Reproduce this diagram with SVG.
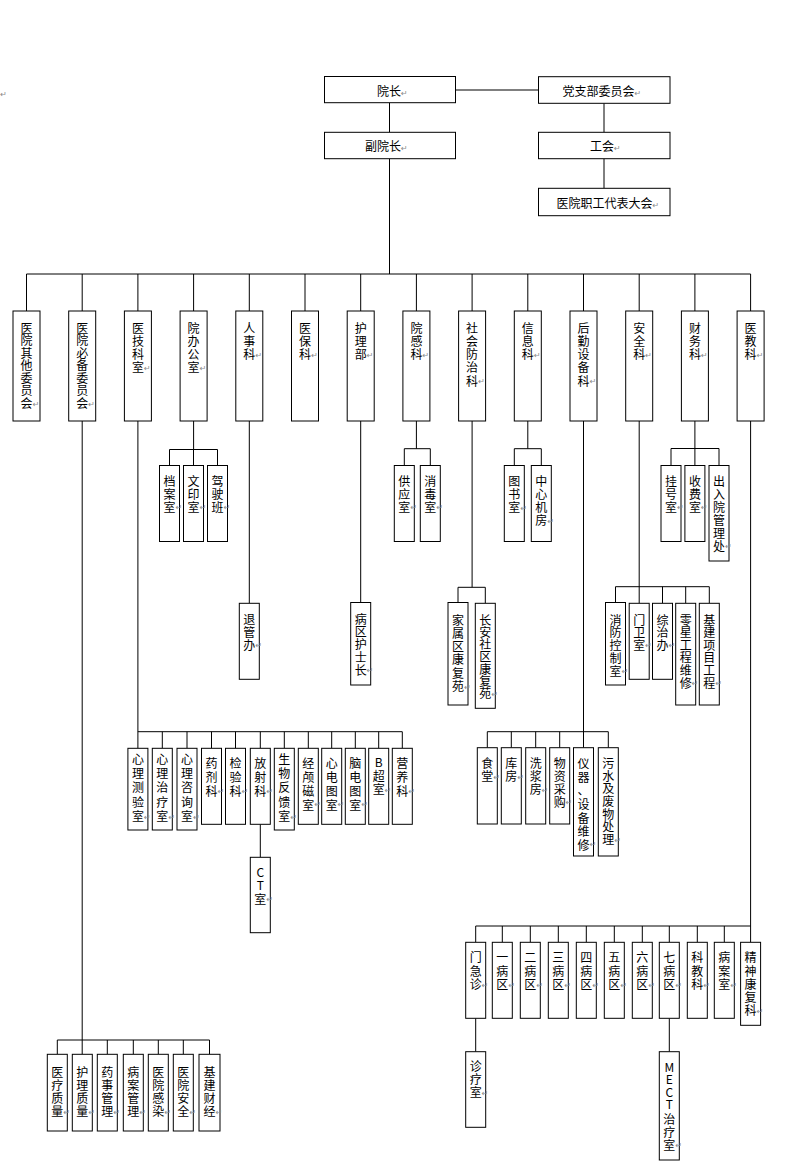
<svg xmlns="http://www.w3.org/2000/svg" width="787" height="1175" viewBox="0 0 787 1175">
<style>
.b{fill:#fff;stroke:#000;stroke-width:1}
.t{font-family:"Noto Sans CJK SC","Noto Sans",sans-serif;font-size:12px;fill:#000;text-anchor:middle}
.h{font-family:"Noto Sans CJK SC","Noto Sans",sans-serif;font-size:12px;fill:#000}
.pm{font-family:"DejaVu Sans",sans-serif;font-size:8px;fill:#8a8a8a;text-anchor:middle}
.c path{stroke:#000;stroke-width:1;fill:none}
</style>
<rect width="787" height="1175" fill="#fff"/>
<text class="pm" x="3.5" y="97">↵</text>

<g id="connectors" class="c">
<path d="M455.5 90H538.5" style="stroke:#555;stroke-width:1.5"/>
<path d="M389.5 102.7V132.3M604 103.3V132.3M604 158.7V188.3M389.5 158.7V274M26.5 274H750.6"/>
<path d="M26.5 274V311M82.2 274V311M137.9 274V311M193.6 274V311M249.3 274V311M305 274V311M360.7 274V311M416.4 274V311M472.1 274V311M527.8 274V311M583.5 274V311M639.2 274V311M694.9 274V311M750.6 274V311"/>
<path d="M82.2 421V1054.3M57.3 1040H209.5M57.3 1040V1054.3M107.3 1040V1054.3M133.3 1040V1054.3M158.3 1040V1054.3M183.3 1040V1054.3M209.5 1040V1054.3"/>
<path d="M137.9 421V748.3M137.9 731.7H402.3M162.3 731.7V748.3M187 731.7V748.3M211.5 731.7V748.3M235.5 731.7V748.3M260.3 731.7V748.3M284.3 731.7V748.3M308.3 731.7V748.3M331.7 731.7V748.3M355.3 731.7V748.3M378.7 731.7V748.3M402.3 731.7V748.3M260.3 824.3V857.3"/>
<path d="M193.6 421V449.5M169.5 449.5H217.5M169.5 449.5V465.5M193.5 449.5V465.5M217.5 449.5V465.5"/>
<path d="M249.3 421V603.3M360.7 421V602.5"/>
<path d="M416.4 421V448.7M404.3 448.7H430.3M404.3 448.7V465.5M430.3 448.7V465.5"/>
<path d="M472.1 421V587.3M458 587.3H485.3M458 587.3V602.5M485.3 587.3V603.3"/>
<path d="M527.8 421V448.7M514.3 448.7H541.3M514.3 448.7V465.5M541.3 448.7V465.5"/>
<path d="M583.5 421V747.7M487.3 731.7H608.3M487.3 731.7V747.7M511.3 731.7V747.7M535.7 731.7V747.7M559.7 731.7V747.7M608.3 731.7V747.7"/>
<path d="M639.2 421V603.3M615.5 586.7H709.3M615.5 586.7V602.5M662.5 586.7V603.3M685.7 586.7V603.3M709.3 586.7V603.3"/>
<path d="M694.9 421V465.5M671 448.5H719M671 448.5V465.5M719 448.5V465.5"/>
<path d="M750.6 421V942.3M475.7 926H750.6M475.7 926V942.3M502.3 926V942.3M530.3 926V942.3M558.3 926V942.3M586.3 926V942.3M614.3 926V942.3M642.3 926V942.3M669.3 926V942.3M697.3 926V942.3M724.3 926V942.3"/>
<path d="M475.7 1018.3V1051.7M669.3 1018.3V1051.7"/>
</g>

<g id="n-yuanzhang"><rect class="b" x="324.5" y="76.5" width="131" height="26.2"/><text class="h" x="377" y="95.5">院长<tspan class="pm" style="text-anchor:start">↵</tspan></text></g>
<g id="n-dangzhibu"><rect class="b" x="538.5" y="76.7" width="131.5" height="26.6"/><text class="h" x="562.5" y="96">党支部委员会<tspan class="pm" style="text-anchor:start">↵</tspan></text></g>
<g id="n-fuyuanzhang"><rect class="b" x="324.5" y="132.3" width="131" height="26.4"/><text class="h" x="365" y="151">副院长<tspan class="pm" style="text-anchor:start">↵</tspan></text></g>
<g id="n-gonghui"><rect class="b" x="538.5" y="132.3" width="131.5" height="26.4"/><text class="h" x="590" y="151">工会<tspan class="pm" style="text-anchor:start">↵</tspan></text></g>
<g id="n-zhigong"><rect class="b" x="538.5" y="188.3" width="131.5" height="27.4"/><text class="h" x="556.5" y="208">医院职工代表大会<tspan class="pm" style="text-anchor:start">↵</tspan></text></g>

<g id="n-qita"><rect class="b" x="13" y="311" width="27" height="110"/><text class="t" x="26.5 26.5 26.5 26.5 26.5 26.5 26.5" y="332.5 345 357.5 370 382.5 395 407.5">医院其他委员会<tspan class="pm" x="36" y="406.5">↵</tspan></text></g>
<g id="n-bibei"><rect class="b" x="68.7" y="311" width="27" height="110"/><text class="t" x="82.2 82.2 82.2 82.2 82.2 82.2 82.2" y="332.5 345 357.5 370 382.5 395 407.5">医院必备委员会<tspan class="pm" x="91.7" y="406.5">↵</tspan></text></g>
<g id="n-yiji"><rect class="b" x="124.4" y="311" width="27" height="110"/><text class="t" x="137.9 137.9 137.9 137.9" y="332.5 345.8 359.1 372.4">医技科室<tspan class="pm" x="147.4" y="371">↵</tspan></text></g>
<g id="n-yuanban"><rect class="b" x="180.1" y="311" width="27" height="110"/><text class="t" x="193.6 193.6 193.6 193.6" y="332.5 345.8 359.1 372.4">院办公室<tspan class="pm" x="203.1" y="371">↵</tspan></text></g>
<g id="n-renshi"><rect class="b" x="235.8" y="311" width="27" height="110"/><text class="t" x="249.3 249.3 249.3" y="332.5 345.8 359.1">人事科<tspan class="pm" x="258.8" y="357.5">↵</tspan></text></g>
<g id="n-yibao"><rect class="b" x="291.5" y="311" width="27" height="110"/><text class="t" x="305 305 305" y="332.5 345.8 359.1">医保科<tspan class="pm" x="314.5" y="357.5">↵</tspan></text></g>
<g id="n-huli"><rect class="b" x="347.2" y="311" width="27" height="110"/><text class="t" x="360.7 360.7 360.7" y="332.5 345.8 359.1">护理部<tspan class="pm" x="370.2" y="357.5">↵</tspan></text></g>
<g id="n-yuangan"><rect class="b" x="402.9" y="311" width="27" height="110"/><text class="t" x="416.4 416.4 416.4" y="332.5 345.8 359.1">院感科<tspan class="pm" x="425.9" y="357.5">↵</tspan></text></g>
<g id="n-shehui"><rect class="b" x="458.6" y="311" width="27" height="110"/><text class="t" x="472.1 472.1 472.1 472.1 472.1" y="332.5 345.8 359.1 372.4 385.7">社会防治科<tspan class="pm" x="481.6" y="384">↵</tspan></text></g>
<g id="n-xinxi"><rect class="b" x="514.3" y="311" width="27" height="110"/><text class="t" x="527.8 527.8 527.8" y="332.5 345.8 359.1">信息科<tspan class="pm" x="537.3" y="357.5">↵</tspan></text></g>
<g id="n-houqin"><rect class="b" x="570" y="311" width="27" height="110"/><text class="t" x="583.5 583.5 583.5 583.5 583.5" y="332.5 345.8 359.1 372.4 385.7">后勤设备科<tspan class="pm" x="593" y="384">↵</tspan></text></g>
<g id="n-anquan"><rect class="b" x="625.7" y="311" width="27" height="110"/><text class="t" x="639.2 639.2 639.2" y="332.5 345.8 359.1">安全科<tspan class="pm" x="648.7" y="357.5">↵</tspan></text></g>
<g id="n-caiwu"><rect class="b" x="681.4" y="311" width="27" height="110"/><text class="t" x="694.9 694.9 694.9" y="332.5 345.8 359.1">财务科<tspan class="pm" x="704.4" y="357.5">↵</tspan></text></g>
<g id="n-yijiao"><rect class="b" x="737.1" y="311" width="27" height="110"/><text class="t" x="750.6 750.6 750.6" y="332.5 345.8 359.1">医教科<tspan class="pm" x="760.1" y="357.5">↵</tspan></text></g>

<g id="n-dangan"><rect class="b" x="159.5" y="465.5" width="20" height="76"/><text class="t" x="169.5 169.5 169.5" y="485.5 498.5 511.5">档案室<tspan class="pm" x="179" y="510">↵</tspan></text></g>
<g id="n-wenyin"><rect class="b" x="183.5" y="465.5" width="20" height="76"/><text class="t" x="193.5 193.5 193.5" y="485.5 498.5 511.5">文印室<tspan class="pm" x="203" y="510">↵</tspan></text></g>
<g id="n-jiashi"><rect class="b" x="207.5" y="465.5" width="20" height="76"/><text class="t" x="217.5 217.5 217.5" y="485.5 498.5 511.5">驾驶班<tspan class="pm" x="227" y="510">↵</tspan></text></g>
<g id="n-gongying"><rect class="b" x="394.3" y="465.5" width="20" height="76"/><text class="t" x="404.3 404.3 404.3" y="485.5 498.5 511.5">供应室<tspan class="pm" x="413.8" y="510">↵</tspan></text></g>
<g id="n-xiaodu"><rect class="b" x="420.3" y="465.5" width="20" height="76"/><text class="t" x="430.3 430.3 430.3" y="485.5 498.5 511.5">消毒室<tspan class="pm" x="439.8" y="510">↵</tspan></text></g>
<g id="n-tushu"><rect class="b" x="504.3" y="465.5" width="20" height="76"/><text class="t" x="514.3 514.3 514.3" y="485.5 498.8 512.1">图书室<tspan class="pm" x="523.8" y="510.5">↵</tspan></text></g>
<g id="n-jifang"><rect class="b" x="531.3" y="465.5" width="20" height="76"/><text class="t" x="541.3 541.3 541.3 541.3" y="485.5 498.8 512.1 525.4">中心机房<tspan class="pm" x="550.8" y="523.5">↵</tspan></text></g>
<g id="n-guahao"><rect class="b" x="661" y="465.5" width="20" height="76"/><text class="t" x="671 671 671" y="485.5 498.5 511.5">挂号室<tspan class="pm" x="680.5" y="510">↵</tspan></text></g>
<g id="n-shoufei"><rect class="b" x="684.9" y="465.5" width="20" height="76"/><text class="t" x="694.9 694.9 694.9" y="485.5 498.5 511.5">收费室<tspan class="pm" x="704.4" y="510">↵</tspan></text></g>
<g id="n-churuyuan"><rect class="b" x="709" y="465.5" width="20" height="95.5"/><text class="t" x="719 719 719 719 719 719" y="485.5 498.5 511.5 524.5 537.5 550.5">出入院管理处<tspan class="pm" x="728.5" y="549">↵</tspan></text></g>

<g id="n-tuiguan"><rect class="b" x="239.3" y="603.3" width="20" height="76"/><text class="t" x="249.3 249.3 249.3" y="623.8 637.1 650.4">退管办<tspan class="pm" x="258.8" y="647.5">↵</tspan></text></g>
<g id="n-hushizhang"><rect class="b" x="350.7" y="602.5" width="20" height="82.5"/><text class="t" x="360.7 360.7 360.7 360.7 360.7" y="623.5 636.3 649.1 661.9 674.7">病区护士长<tspan class="pm" x="370.2" y="673">↵</tspan></text></g>
<g id="n-jiashu"><rect class="b" x="448" y="602.5" width="20" height="102.5"/><text class="t" x="458 458 458 458 458 458" y="624.5 637.8 651.1 664.4 677.7 691">家属区康复苑<tspan class="pm" x="467.5" y="689.5">↵</tspan></text></g>
<g id="n-changan"><rect class="b" x="475.3" y="603.3" width="20" height="105"/><text class="t" x="485.3 485.3 485.3 485.3 485.3 485.3 485.3" y="624.5 636.8 649.1 661.4 673.7 686 698.3">长安社区康复苑<tspan class="pm" x="494.8" y="696.5">↵</tspan></text></g>
<g id="n-xiaofang"><rect class="b" x="605.5" y="602.5" width="20" height="82.5"/><text class="t" x="615.5 615.5 615.5 615.5 615.5" y="624.5 637.4 650.2 663.1 675.9">消防控制室<tspan class="pm" x="625" y="673.5">↵</tspan></text></g>
<g id="n-menwei"><rect class="b" x="629.2" y="603.3" width="20" height="76"/><text class="t" x="639.2 639.2 639.2" y="624.5 637.4 650.2">门卫室<tspan class="pm" x="648.7" y="648">↵</tspan></text></g>
<g id="n-zongzhi"><rect class="b" x="652.5" y="603.3" width="20" height="76"/><text class="t" x="662.5 662.5 662.5" y="624.5 637.4 650.2">综治办<tspan class="pm" x="672" y="648">↵</tspan></text></g>
<g id="n-lingxing"><rect class="b" x="675.7" y="603.3" width="20" height="101.7"/><text class="t" x="685.7 685.7 685.7 685.7 685.7 685.7" y="624.5 637.1 649.7 662.3 674.9 687.5">零星工程维修<tspan class="pm" x="695.2" y="686">↵</tspan></text></g>
<g id="n-jijian"><rect class="b" x="699.3" y="603.3" width="20" height="101.7"/><text class="t" x="709.3 709.3 709.3 709.3 709.3 709.3" y="624.5 637.1 649.7 662.3 674.9 687.5">基建项目工程<tspan class="pm" x="718.8" y="686">↵</tspan></text></g>

<g id="n-celiang"><rect class="b" x="127.9" y="748.3" width="20" height="81.7"/><text class="t" x="137.9 137.9 137.9 137.9 137.9" y="763.8 778.1 792.4 806.7 821">心理测验室<tspan class="pm" x="147.4" y="819.5">↵</tspan></text></g>
<g id="n-zhiliao"><rect class="b" x="152.3" y="748.3" width="20" height="81.7"/><text class="t" x="162.3 162.3 162.3 162.3 162.3" y="763.8 778.1 792.4 806.7 821">心理治疗室<tspan class="pm" x="171.8" y="819.5">↵</tspan></text></g>
<g id="n-zixun"><rect class="b" x="177" y="748.3" width="20" height="81.7"/><text class="t" x="187 187 187 187 187" y="763.8 778.1 792.4 806.7 821">心理咨询室<tspan class="pm" x="196.5" y="819.5">↵</tspan></text></g>
<g id="n-yaoji"><rect class="b" x="201.5" y="748.3" width="20" height="76"/><text class="t" x="211.5 211.5 211.5" y="767.8 781.8 795.8">药剂科<tspan class="pm" x="221" y="794">↵</tspan></text></g>
<g id="n-jianyan"><rect class="b" x="225.5" y="748.3" width="20" height="76"/><text class="t" x="235.5 235.5 235.5" y="767.8 781.8 795.8">检验科<tspan class="pm" x="245" y="794">↵</tspan></text></g>
<g id="n-fangshe"><rect class="b" x="250.3" y="748.3" width="20" height="76"/><text class="t" x="260.3 260.3 260.3" y="767.8 781.8 795.8">放射科<tspan class="pm" x="269.8" y="794">↵</tspan></text></g>
<g id="n-fankui"><rect class="b" x="274.3" y="748.3" width="20" height="81.7"/><text class="t" x="284.3 284.3 284.3 284.3 284.3" y="763.8 778.1 792.4 806.7 821">生物反馈室<tspan class="pm" x="293.8" y="819.5">↵</tspan></text></g>
<g id="n-jinglu"><rect class="b" x="298.3" y="748.3" width="20" height="76"/><text class="t" x="308.3 308.3 308.3 308.3" y="767.8 781.8 795.8 809.8">经颅磁室<tspan class="pm" x="317.8" y="807">↵</tspan></text></g>
<g id="n-xindian"><rect class="b" x="321.7" y="748.3" width="20" height="76"/><text class="t" x="331.7 331.7 331.7 331.7" y="767.8 781.8 795.8 809.8">心电图室<tspan class="pm" x="341.2" y="807">↵</tspan></text></g>
<g id="n-naodian"><rect class="b" x="345.3" y="748.3" width="20" height="76"/><text class="t" x="355.3 355.3 355.3 355.3" y="767.8 781.8 795.8 809.8">脑电图室<tspan class="pm" x="364.8" y="807">↵</tspan></text></g>
<g id="n-bchao"><rect class="b" x="368.7" y="748.3" width="20" height="76"/><text class="t" x="378.7 378.7 378.7" y="767 780.5 793.8">B超室<tspan class="pm" x="388.2" y="792.5">↵</tspan></text></g>
<g id="n-yingyang"><rect class="b" x="392.3" y="748.3" width="20" height="76"/><text class="t" x="402.3 402.3 402.3" y="767.8 781.8 795.8">营养科<tspan class="pm" x="411.8" y="794">↵</tspan></text></g>
<g id="n-ct"><rect class="b" x="250.3" y="857.3" width="20" height="75.4"/><text class="t" x="260.3 260.3 260.3" y="877 890 903.8">CT室<tspan class="pm" x="269.8" y="902">↵</tspan></text></g>

<g id="n-shitang"><rect class="b" x="477.3" y="747.7" width="20" height="76.3"/><text class="t" x="487.3 487.3" y="768.2 781.2">食堂<tspan class="pm" x="496.8" y="780">↵</tspan></text></g>
<g id="n-kufang"><rect class="b" x="501.3" y="747.7" width="20" height="76.3"/><text class="t" x="511.3 511.3" y="768.2 781.2">库房<tspan class="pm" x="520.8" y="780">↵</tspan></text></g>
<g id="n-xijiang"><rect class="b" x="525.7" y="747.7" width="20" height="76.3"/><text class="t" x="535.7 535.7 535.7" y="768.2 781.2 794.2">洗浆房<tspan class="pm" x="545.2" y="793">↵</tspan></text></g>
<g id="n-caigou"><rect class="b" x="549.7" y="747.7" width="20" height="76.3"/><text class="t" x="559.7 559.7 559.7 559.7" y="768.2 781.2 794.2 807.2">物资采购<tspan class="pm" x="569.2" y="805">↵</tspan></text></g>
<g id="n-yiqi"><rect class="b" x="573.5" y="747.7" width="20" height="108.3"/><text class="t" x="583.5 583.5 583.5 583.5 583.5 583.5 583.5" y="768.2 781.8 795.4 809 822.6 836.2 849.8">仪器、设备维修<tspan class="pm" x="593" y="846.5">↵</tspan></text></g>
<g id="n-wushui"><rect class="b" x="598.3" y="747.7" width="20" height="108.3"/><text class="t" x="608.3 608.3 608.3 608.3 608.3 608.3 608.3" y="768.2 780.8 793.4 806 818.6 831.2 843.8">污水及废物处理<tspan class="pm" x="617.8" y="842.8">↵</tspan></text></g>

<g id="n-menjizhen"><rect class="b" x="465.7" y="942.3" width="20" height="76"/><text class="t" x="475.7 475.7 475.7" y="962.2 975.5 988.8">门急诊<tspan class="pm" x="485.2" y="987.8">↵</tspan></text></g>
<g id="n-bq1"><rect class="b" x="492.3" y="942.3" width="20" height="76"/><text class="t" x="502.3 502.3 502.3" y="962.2 975.5 988.8">一病区<tspan class="pm" x="511.8" y="987.8">↵</tspan></text></g>
<g id="n-bq2"><rect class="b" x="520.3" y="942.3" width="20" height="76"/><text class="t" x="530.3 530.3 530.3" y="962.2 975.5 988.8">二病区<tspan class="pm" x="539.8" y="987.8">↵</tspan></text></g>
<g id="n-bq3"><rect class="b" x="548.3" y="942.3" width="20" height="76"/><text class="t" x="558.3 558.3 558.3" y="962.2 975.5 988.8">三病区<tspan class="pm" x="567.8" y="987.8">↵</tspan></text></g>
<g id="n-bq4"><rect class="b" x="576.3" y="942.3" width="20" height="76"/><text class="t" x="586.3 586.3 586.3" y="962.2 975.5 988.8">四病区<tspan class="pm" x="595.8" y="987.8">↵</tspan></text></g>
<g id="n-bq5"><rect class="b" x="604.3" y="942.3" width="20" height="76"/><text class="t" x="614.3 614.3 614.3" y="962.2 975.5 988.8">五病区<tspan class="pm" x="623.8" y="987.8">↵</tspan></text></g>
<g id="n-bq6"><rect class="b" x="632.3" y="942.3" width="20" height="76"/><text class="t" x="642.3 642.3 642.3" y="962.2 975.5 988.8">六病区<tspan class="pm" x="651.8" y="987.8">↵</tspan></text></g>
<g id="n-bq7"><rect class="b" x="659.3" y="942.3" width="20" height="76"/><text class="t" x="669.3 669.3 669.3" y="962.2 975.5 988.8">七病区<tspan class="pm" x="678.8" y="987.8">↵</tspan></text></g>
<g id="n-kejiao"><rect class="b" x="687.3" y="942.3" width="20" height="76"/><text class="t" x="697.3 697.3 697.3" y="962.2 975.5 988.8">科教科<tspan class="pm" x="706.8" y="987.8">↵</tspan></text></g>
<g id="n-bingan"><rect class="b" x="714.3" y="942.3" width="20" height="76"/><text class="t" x="724.3 724.3 724.3" y="962.2 975.5 988.8">病案室<tspan class="pm" x="733.8" y="987.8">↵</tspan></text></g>
<g id="n-jingshen"><rect class="b" x="740.6" y="942.3" width="20" height="83"/><text class="t" x="750.6 750.6 750.6 750.6 750.6" y="962.2 975.5 988.8 1002.1 1015.4">精神康复科<tspan class="pm" x="760.1" y="1013.5">↵</tspan></text></g>
<g id="n-zhenliao"><rect class="b" x="465.7" y="1051.7" width="20" height="75.6"/><text class="t" x="475.7 475.7 475.7" y="1071.2 1084.2 1097.2">诊疗室<tspan class="pm" x="485.2" y="1096">↵</tspan></text></g>
<g id="n-mect"><rect class="b" x="659.3" y="1051.7" width="20" height="108.3"/><text class="t" x="669.3 669.3 669.3 669.3 669.3 669.3 669.3" y="1071.5 1084 1096.7 1109.3 1123.8 1137 1150.3">MECT治疗室<tspan class="pm" x="678.8" y="1148">↵</tspan></text></g>

<g id="n-yiliao"><rect class="b" x="47.3" y="1054.3" width="20" height="76.7"/><text class="t" x="57.3 57.3 57.3 57.3" y="1077.2 1090.2 1103.2 1116.2">医疗质量<tspan class="pm" x="66.8" y="1114.5">↵</tspan></text></g>
<g id="n-hulizl"><rect class="b" x="72.3" y="1054.3" width="20" height="76.7"/><text class="t" x="82.3 82.3 82.3 82.3" y="1077.2 1090.2 1103.2 1116.2">护理质量<tspan class="pm" x="91.8" y="1114.5">↵</tspan></text></g>
<g id="n-yaoshi"><rect class="b" x="97.3" y="1054.3" width="20" height="76.7"/><text class="t" x="107.3 107.3 107.3 107.3" y="1077.2 1090.2 1103.2 1116.2">药事管理<tspan class="pm" x="116.8" y="1114.5">↵</tspan></text></g>
<g id="n-binganzl"><rect class="b" x="123.3" y="1054.3" width="20" height="76.7"/><text class="t" x="133.3 133.3 133.3 133.3" y="1077.2 1090.2 1103.2 1116.2">病案管理<tspan class="pm" x="142.8" y="1114.5">↵</tspan></text></g>
<g id="n-ganran"><rect class="b" x="148.3" y="1054.3" width="20" height="76.7"/><text class="t" x="158.3 158.3 158.3 158.3" y="1077.2 1090.2 1103.2 1116.2">医院感染<tspan class="pm" x="167.8" y="1114.5">↵</tspan></text></g>
<g id="n-anquanzl"><rect class="b" x="173.3" y="1054.3" width="20" height="76.7"/><text class="t" x="183.3 183.3 183.3 183.3" y="1077.2 1090.2 1103.2 1116.2">医院安全<tspan class="pm" x="192.8" y="1114.5">↵</tspan></text></g>
<g id="n-caijing"><rect class="b" x="199" y="1054.3" width="21" height="76.7"/><text class="t" x="209.5 209.5 209.5 209.5" y="1077.2 1090.2 1103.2 1116.2">基建财经<tspan class="pm" x="219" y="1114.5">↵</tspan></text></g>
</svg>
